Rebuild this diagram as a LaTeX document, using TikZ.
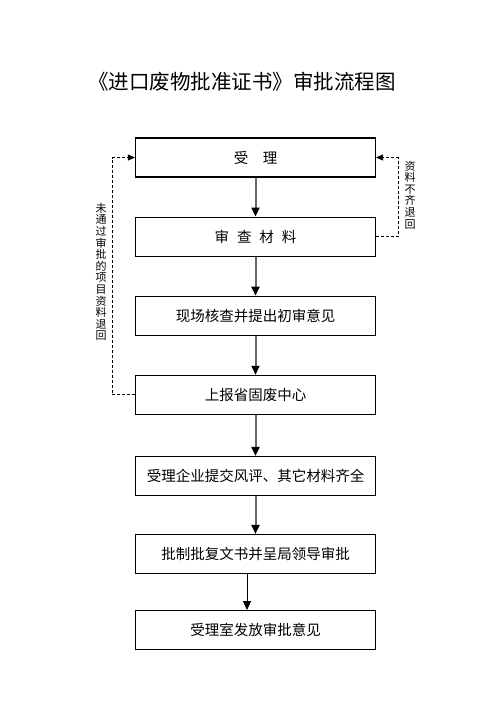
\documentclass[tikz,border=0pt]{standalone}
\usepackage{xcolor}
\usepackage{fontspec}
\usepackage{tikz}
\usetikzlibrary{positioning, arrows.meta}
\newfontfamily\cjk{Noto Sans CJK SC}

\begin{document}
\begin{tikzpicture}[
    x=1pt, y=-1pt,
    node distance=39pt,
    box/.style={rectangle, draw=black, line width=1.1pt, minimum width=240pt, minimum height=39pt, inner sep=0pt, font=\cjk\fontsize{14.5}{16}\selectfont},
    note/.style={align=center, inner sep=0pt, font=\cjk\fontsize{11}{11.6}\selectfont},
    arrow/.style={-{Triangle[width=8pt, length=9pt, color=black]}, line width=2pt, color=black!60},
    thinarrow/.style={-{Triangle[width=8pt, length=9pt]}, line width=1pt, color=black},
    back/.style={-{Triangle[width=6pt, length=7pt]}, densely dashed, line width=0.8pt, color=black}
]
\useasboundingbox (0,0) rectangle (496,702);

% Title
\node[font=\cjk\fontsize{20.5}{24}\selectfont] (title) at (242,82) {《进口废物批准证书》审批流程图};

% Main steps
\node[box] (accept) at (255.5,157.5) {受\hspace{1em}理};
\node[box, below=of accept] (review) {审\hspace{.55em}查\hspace{.55em}材\hspace{.55em}料};
\node[box, below=of review] (inspect) {现场核查并提出初审意见};
\node[box, below=of inspect] (report) {上报省固废中心};
\node[box, below=41pt of report] (submit) {受理企业提交风评、其它材料齐全};
\node[box, below=38pt of submit] (approve) {批制批复文书并呈局领导审批};
\node[box, below=36pt of approve] (issue) {受理室发放审批意见};

% Side notes
\node[note] (backleft) at (101,272) {未\\通\\过\\审\\批\\的\\项\\目\\资\\料\\退\\回};
\node[note] (backright) at (410,195) {资\\料\\不\\齐\\退\\回};

% Arrows
\draw[arrow] (accept) -- (review);
\draw[arrow] (review) -- (inspect);
\draw[arrow] (inspect) -- (report);
\draw[arrow] (report) -- (submit);
\draw[arrow] (submit) -- (approve);
\draw[thinarrow] ([xshift=-8.5pt]approve.south) -- ([xshift=-8.5pt]issue.north);

% Returns
\draw[back] (report.west) -- ++(-23,0) |- (accept.west);
\draw[back] (review.east) -- ++(22,0) |- (accept.east);

\end{tikzpicture}
\end{document}
